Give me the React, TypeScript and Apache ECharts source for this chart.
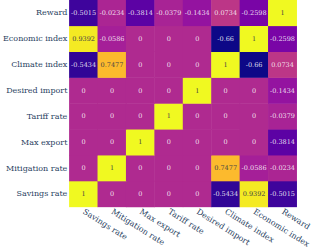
import React, { useEffect, useRef } from "react";
import * as echarts from "echarts";

const labels = [
  "Savings rate",
  "Mitigation rate",
  "Max export",
  "Tariff rate",
  "Desired import",
  "Climate index",
  "Economic index",
  "Reward",
];

// rows by y label (bottom to top), values across x labels (left to right)
const savingsRow = [1, 0, 0, 0, 0, -0.5434, 0.9392, -0.5015];
const mitigationRow = [0, 1, 0, 0, 0, 0.7477, -0.0586, -0.0234];
const maxExportRow = [0, 0, 1, 0, 0, 0, 0, -0.3814];
const tariffRow = [0, 0, 0, 1, 0, 0, 0, -0.0379];
const desiredImportRow = [0, 0, 0, 0, 1, 0, 0, -0.1434];
const climateRow = [-0.5434, 0.7477, 0, 0, 0, 1, -0.66, 0.0734];
const economicRow = [0.9392, -0.0586, 0, 0, 0, -0.66, 1, -0.2598];
const rewardRow = [-0.5015, -0.0234, -0.3814, -0.0379, -0.1434, 0.0734, -0.2598, 1];

const rows = [
  savingsRow,
  mitigationRow,
  maxExportRow,
  tariffRow,
  desiredImportRow,
  climateRow,
  economicRow,
  rewardRow,
];

const plasma = [
  "#0d0887",
  "#46039f",
  "#7201a8",
  "#9c179e",
  "#bd3786",
  "#d8576b",
  "#ed7953",
  "#fb9f3a",
  "#fdca26",
  "#f0f921",
];

const FONT = "'DejaVu Serif', serif";

export default function App() {
  const ref = useRef<HTMLDivElement>(null);
  useEffect(() => {
    document.body.style.margin = "0";
    if (!ref.current) return;
    const chart = echarts.init(ref.current, undefined, { renderer: "svg" });
    const data: any[] = [];
    rows.forEach((row, yi) => {
      row.forEach((v, xi) => {
        data.push({
          value: [xi, yi, v],
          label: { color: v > 0.5 ? "#444444" : "rgba(255,255,255,0.85)" },
        });
      });
    });
    chart.setOption({
      animation: false,
      grid: { left: 62, right: 12, top: 0, bottom: 40 },
      xAxis: {
        type: "category",
        data: labels,
        axisLine: { show: false },
        axisTick: { show: false },
        splitLine: { show: false },
        axisLabel: {
          rotate: -32,
          interval: 0,
          margin: 4,
          color: "#2a3f5f",
          fontFamily: FONT,
          fontSize: 8,
        },
      },
      yAxis: {
        type: "category",
        data: labels,
        axisLine: { show: false },
        axisTick: { show: false },
        splitLine: { show: false },
        axisLabel: {
          interval: 0,
          margin: 2,
          color: "#2a3f5f",
          fontFamily: FONT,
          fontSize: 8,
        },
      },
      visualMap: {
        show: false,
        min: -0.66,
        max: 1,
        dimension: 2,
        inRange: { color: plasma },
      },
      series: [
        {
          type: "heatmap",
          data,
          label: {
            show: true,
            fontFamily: FONT,
            fontSize: 6.5,
            formatter: (p: any) => String(p.value[2]),
          },
          itemStyle: { borderWidth: 0 },
          emphasis: { disabled: true },
        },
      ],
    });
    return () => chart.dispose();
  }, []);
  return <div ref={ref} style={{ width: 313, height: 250 }} />;
}
